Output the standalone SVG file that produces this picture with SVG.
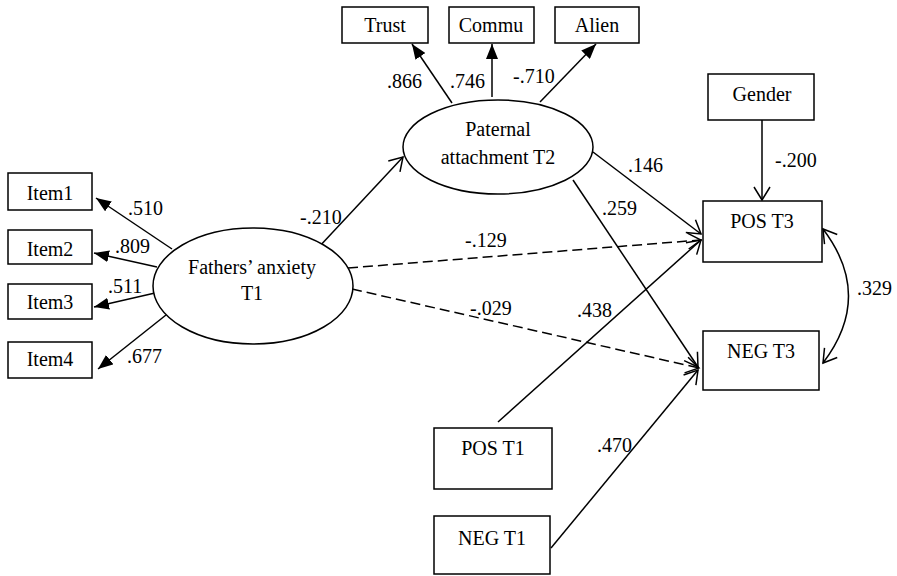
<svg xmlns="http://www.w3.org/2000/svg" width="897" height="576" viewBox="0 0 897 576" font-family="'Liberation Serif', 'Times New Roman', serif" font-size="20">
<style>
text{font-family:'Liberation Serif','Times New Roman',serif;font-size:20px;fill:#000}
.c{text-anchor:middle}
.box{fill:#fff;stroke:#000;stroke-width:1.5}
.ell{fill:#fff;stroke:#000;stroke-width:1.5}
.ln{fill:none;stroke:#000;stroke-width:1.5}
.meas{marker-end:url(#fa)}
.path{marker-end:url(#oa)}
.dash{stroke-dasharray:10 5}
</style>
<defs>
<marker id="fa" markerWidth="16" markerHeight="12" refX="15" refY="6" orient="auto" markerUnits="userSpaceOnUse">
<path d="M0,0 L15,6 L0,12 z" fill="#000"/>
</marker>
<marker id="oa" markerWidth="16" markerHeight="20" refX="14" refY="9" orient="auto" markerUnits="userSpaceOnUse" style="overflow:visible">
<path d="M1,1 L14,9 L1,17" fill="none" stroke="#000" stroke-width="1.5"/>
</marker>
<marker id="ob" markerWidth="16" markerHeight="20" refX="14" refY="9" orient="auto-start-reverse" markerUnits="userSpaceOnUse" style="overflow:visible">
<path d="M1,1 L14,9 L1,17" fill="none" stroke="#000" stroke-width="1.5"/>
</marker>
</defs>
<rect width="897" height="576" fill="#fff"/>

<g id="connectors">
<line class="ln meas" x1="172" y1="249" x2="96" y2="198"/>
<line class="ln meas" x1="157" y1="267" x2="94" y2="253"/>
<line class="ln meas" x1="155" y1="293" x2="94" y2="307"/>
<line class="ln meas" x1="166" y1="315" x2="98" y2="369"/>
<line class="ln meas" x1="452" y1="103" x2="412" y2="44"/>
<line class="ln meas" x1="492" y1="97" x2="492" y2="44"/>
<line class="ln meas" x1="540" y1="102" x2="596" y2="44"/>
<line class="ln path" x1="318" y1="248" x2="403" y2="157"/>
<line class="ln path" x1="593" y1="152" x2="701" y2="234"/>
<line class="ln path" x1="573" y1="180" x2="698" y2="367"/>
<line class="ln path dash" x1="348" y1="268" x2="701" y2="240"/>
<line class="ln path dash" x1="352" y1="289" x2="699" y2="368"/>
<line class="ln path" x1="498" y1="422" x2="701" y2="240"/>
<line class="ln path" x1="551" y1="548" x2="698" y2="370"/>
<line class="ln path" x1="762" y1="120" x2="762" y2="200"/>
<path class="ln" d="M823,229 Q874,296 823,363" marker-start="url(#ob)" marker-end="url(#ob)"/>
<text x="128" y="215">.510</text>
<text x="115" y="253">.809</text>
<text x="108" y="293">.511</text>
<text x="127" y="363">.677</text>
<text x="387" y="88">.866</text>
<text x="450" y="88">.746</text>
<text x="513" y="83">-.710</text>
<text x="300" y="224">-.210</text>
<text x="628" y="172">.146</text>
<text x="602" y="215">.259</text>
<text x="465" y="247">-.129</text>
<text x="470" y="315">-.029</text>
<text x="577" y="317">.438</text>
<text x="597" y="452">.470</text>
<text x="775" y="167">-.200</text>
<text x="857" y="295">.329</text>
</g>

<g id="item1"><rect class="box" x="8" y="173" width="84" height="37"/><text class="c" x="50" y="200">Item1</text></g>
<g id="item2"><rect class="box" x="8" y="230" width="84" height="34"/><text class="c" x="50" y="256">Item2</text></g>
<g id="item3"><rect class="box" x="8" y="284" width="84" height="35"/><text class="c" x="50" y="309">Item3</text></g>
<g id="item4"><rect class="box" x="8" y="342" width="84" height="36"/><text class="c" x="50" y="366">Item4</text></g>

<g id="fathers"><ellipse class="ell" cx="253" cy="286" rx="100" ry="58"/><text class="c" x="252" y="274">Fathers’ anxiety</text><text class="c" x="252" y="300">T1</text></g>

<g id="paternal"><ellipse class="ell" cx="498" cy="147" rx="95" ry="47"/><text class="c" x="498" y="136">Paternal</text><text class="c" x="498" y="164">attachment T2</text></g>

<g id="trust"><rect class="box" x="342" y="7" width="86" height="36"/><text class="c" x="385" y="32">Trust</text></g>
<g id="commu"><rect class="box" x="449" y="7" width="85" height="36"/><text class="c" x="491" y="32">Commu</text></g>
<g id="alien"><rect class="box" x="555" y="7" width="84" height="36"/><text class="c" x="597" y="32">Alien</text></g>

<g id="gender"><rect class="box" x="708" y="74" width="106" height="46"/><text class="c" x="762" y="101">Gender</text></g>
<g id="post3"><rect class="box" x="703" y="201" width="119" height="61"/><text class="c" x="762" y="228">POS T3</text></g>
<g id="negt3"><rect class="box" x="703" y="331" width="116" height="59"/><text class="c" x="761" y="358">NEG T3</text></g>
<g id="post1"><rect class="box" x="434" y="428" width="118" height="61"/><text class="c" x="493" y="455">POS T1</text></g>
<g id="negt1"><rect class="box" x="434" y="516" width="116" height="58"/><text class="c" x="492" y="545">NEG T1</text></g>
</svg>
